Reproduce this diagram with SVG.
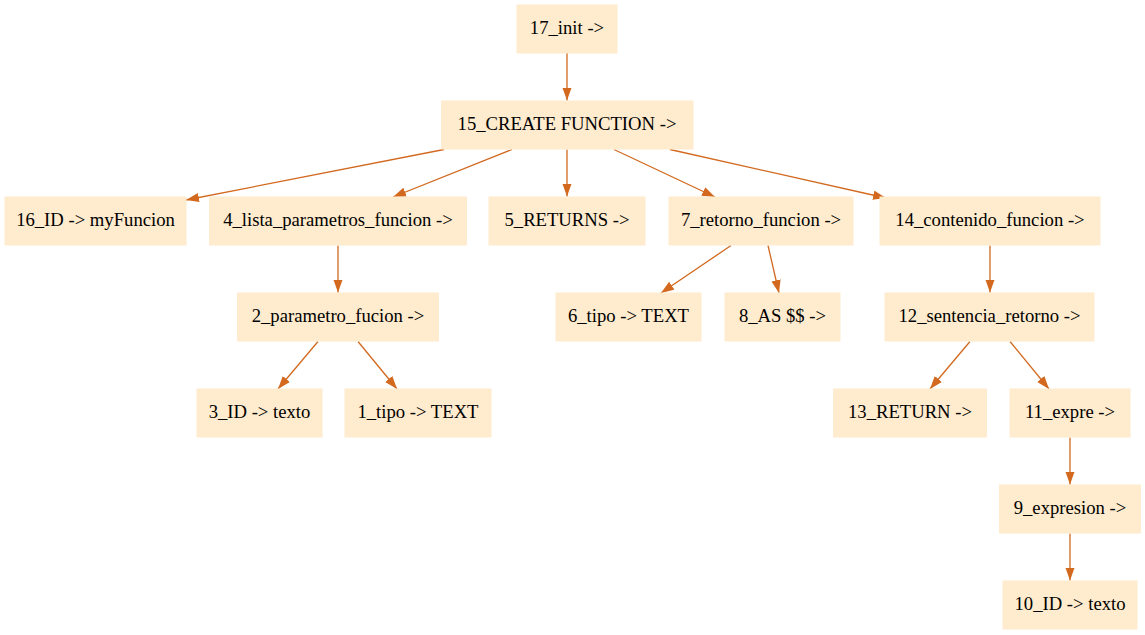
<svg xmlns="http://www.w3.org/2000/svg" width="1145" height="635" viewBox="0 0 1145 635">
<style>
.n rect{fill:#ffebcd;stroke:#ffebcd;stroke-width:1}
.n text{font-family:"Liberation Serif","Times New Roman",serif;font-size:18.67px;fill:#000;text-anchor:middle}
.e line{stroke:#d2691e;stroke-width:1.3;marker-end:url(#ah)}
</style>
<defs>
<marker id="ah" markerUnits="userSpaceOnUse" markerWidth="14" markerHeight="10" refX="13" refY="4.65" orient="auto">
<path d="M0,0 L13,4.65 L0,9.3 z" fill="#d2691e"/>
</marker>
</defs>
<rect width="1145" height="635" fill="#fff"/>
<g id="edges" class="e">
<line x1="567" y1="53" x2="567" y2="100.5"/>
<line x1="444" y1="149.5" x2="186" y2="200"/>
<line x1="512" y1="149.5" x2="393" y2="197"/>
<line x1="567" y1="149.5" x2="567" y2="196.5"/>
<line x1="614" y1="149.5" x2="715" y2="197"/>
<line x1="670" y1="149.5" x2="886" y2="198"/>
<line x1="338" y1="245.5" x2="338" y2="292.5"/>
<line x1="731" y1="245.5" x2="661" y2="293"/>
<line x1="768" y1="245.5" x2="779" y2="293"/>
<line x1="990" y1="245.5" x2="990" y2="292.5"/>
<line x1="318" y1="341.5" x2="278" y2="389"/>
<line x1="358" y1="341.5" x2="397" y2="389"/>
<line x1="970" y1="341.5" x2="930" y2="389"/>
<line x1="1010" y1="341.5" x2="1049" y2="389"/>
<line x1="1070" y1="437.5" x2="1070" y2="484.5"/>
<line x1="1070" y1="533.5" x2="1070" y2="580.5"/>
</g>
<g id="n17" class="n"><rect x="517" y="5" width="100" height="48"/><text x="567" y="34">17_init -&gt;</text></g>
<g id="n15" class="n"><rect x="441.5" y="101" width="251.5" height="48"/><text x="567" y="130">15_CREATE FUNCTION -&gt;</text></g>
<g id="n16" class="n"><rect x="5" y="197" width="181" height="48"/><text x="95.5" y="226">16_ID -&gt; myFuncion</text></g>
<g id="n4" class="n"><rect x="209.5" y="197" width="257" height="48"/><text x="338" y="226">4_lista_parametros_funcion -&gt;</text></g>
<g id="n5" class="n"><rect x="489" y="197" width="156" height="48"/><text x="567" y="226">5_RETURNS -&gt;</text></g>
<g id="n7" class="n"><rect x="669" y="197" width="184" height="48"/><text x="761" y="226">7_retorno_funcion -&gt;</text></g>
<g id="n14" class="n"><rect x="880" y="197" width="220" height="48"/><text x="990" y="226">14_contenido_funcion -&gt;</text></g>
<g id="n2" class="n"><rect x="237.5" y="293" width="201" height="48"/><text x="338" y="322">2_parametro_fucion -&gt;</text></g>
<g id="n6" class="n"><rect x="556" y="293" width="145" height="48"/><text x="628.5" y="322">6_tipo -&gt; TEXT</text></g>
<g id="n8" class="n"><rect x="725" y="293" width="115" height="48"/><text x="782.5" y="322">8_AS $$ -&gt;</text></g>
<g id="n12" class="n"><rect x="885" y="293" width="209" height="48"/><text x="989.5" y="322">12_sentencia_retorno -&gt;</text></g>
<g id="n3" class="n"><rect x="197" y="389" width="125" height="48"/><text x="259.5" y="418">3_ID -&gt; texto</text></g>
<g id="n1" class="n"><rect x="345" y="389" width="146" height="48"/><text x="418" y="418">1_tipo -&gt; TEXT</text></g>
<g id="n13" class="n"><rect x="833.5" y="389" width="153" height="48"/><text x="910" y="418">13_RETURN -&gt;</text></g>
<g id="n11" class="n"><rect x="1010" y="389" width="120" height="48"/><text x="1070" y="418">11_expre -&gt;</text></g>
<g id="n9" class="n"><rect x="999.5" y="485" width="141" height="48"/><text x="1070" y="514">9_expresion -&gt;</text></g>
<g id="n10" class="n"><rect x="1003" y="581" width="134" height="48"/><text x="1070" y="610">10_ID -&gt; texto</text></g>
</svg>
